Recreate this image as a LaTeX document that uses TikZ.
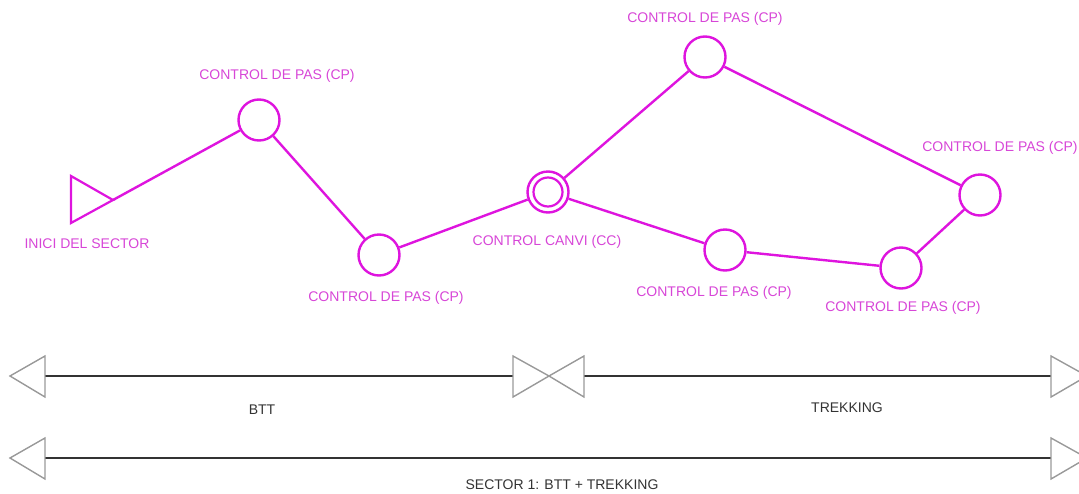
\documentclass[tikz,border=0pt]{standalone}
\usepackage{fontspec}
\setmainfont{Liberation Sans}
\begin{document}
\begin{tikzpicture}[x=1pt,y=-1pt,
  path/.style={draw=mag,line width=2.4pt},
  cp/.style={circle,draw=mag,line width=2.4pt,minimum size=41pt,inner sep=0pt,fill=white},
  lbl/.style={text=lab,font=\fontsize{14}{16}\selectfont,inner sep=0pt},
  glbl/.style={text=black!80,font=\fontsize{14}{16}\selectfont,inner sep=0pt},
  tri/.style={draw=gray!80,line width=1.4pt,line join=miter},
  dim/.style={draw=black!80,line width=1.2pt}]
\definecolor{mag}{RGB}{222,20,222}
\definecolor{lab}{RGB}{215,70,215}
\useasboundingbox (0,0) rectangle (1079,493);
% start triangle
\draw[path,line width=2.2pt] (71,176) -- (71,223) -- (113,200) -- cycle;
\coordinate (start) at (113,200);
% nodes
\node[cp] (cp1) at (259,120) {};
\node[cp] (cp2) at (379,255) {};
\node[cp] (cc) at (548,192) {};
\node[circle,draw=mag,line width=2.2pt,minimum size=29pt,inner sep=0pt] (cci) at (548,192) {};
\node[cp] (cp3) at (705,57) {};
\node[cp] (cp4) at (980,195) {};
\node[cp] (cp5) at (725,250) {};
\node[cp] (cp6) at (901,268) {};
% connectors
\draw[path] (start) -- (cp1);
\draw[path] (cp1) -- (cp2);
\draw[path] (cp2) -- (cc);
\draw[path] (cc) -- (cp3);
\draw[path] (cp3) -- (cp4);
\draw[path] (cc) -- (cp5);
\draw[path] (cp5) -- (cp6);
\draw[path] (cp6) -- (cp4);
% labels
\node[lbl] (t0) at (87,244) {INICI DEL SECTOR};
\node[lbl] (t1) at (277,76) {CONTROL DE PAS (CP)};
\node[lbl] (t2) at (386,298) {CONTROL DE PAS (CP)};
\node[lbl] (tcc) at (547,242) {CONTROL CANVI (CC)};
\node[lbl] (t3) at (705,19) {CONTROL DE PAS (CP)};
\node[lbl] (t4) at (1000,148) {CONTROL DE PAS (CP)};
\node[lbl] (t5) at (714,293) {CONTROL DE PAS (CP)};
\node[lbl] (t6) at (903,308) {CONTROL DE PAS (CP)};
% dimension row 1
\coordinate (a1) at (45,376);
\coordinate (a2) at (513,376);
\coordinate (a3) at (584,376);
\coordinate (a4) at (1051,376);
\draw[dim] (a1) -- (a2);
\draw[dim] (a3) -- (a4);
\draw[tri] (10,376) -- (45,356) -- (45,397) -- cycle;
\draw[tri] (549,376) -- (513,356) -- (513,397) -- cycle;
\draw[tri] (549,376) -- (584,356) -- (584,397) -- cycle;
\draw[tri] (1087,376) -- (1051,356) -- (1051,397) -- cycle;
\node[glbl] (btt) at (262,410) {BTT};
\node[glbl] (trk) at (847,408) {TREKKING};
% dimension row 2
\coordinate (b1) at (45,458);
\coordinate (b2) at (1051,458);
\draw[dim] (b1) -- (b2);
\draw[tri] (10,458) -- (45,438) -- (45,479) -- cycle;
\draw[tri] (1087,458) -- (1051,438) -- (1051,479) -- cycle;
\node[glbl] (sec) at (562,485) {SECTOR 1: BTT + TREKKING};
\end{tikzpicture}
\end{document}
